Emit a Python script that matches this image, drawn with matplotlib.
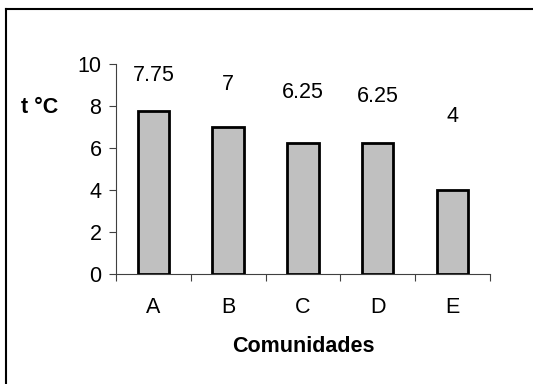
import matplotlib
matplotlib.use('Agg')
import matplotlib.pyplot as plt
from matplotlib.lines import Line2D

categories = ['A', 'B', 'C', 'D', 'E']
values = [7.75, 7, 6.25, 6.25, 4]
value_labels = ['7.75', '7', '6.25', '6.25', '4']
# label heights as placed in the original chart (data units)
label_heights = [9.47, 9.03, 8.63, 8.44, 7.52]

plt.rcParams['font.family'] = ['Liberation Sans', 'DejaVu Sans']
FS = 15.5

fig = plt.figure(figsize=(5.33, 3.84), dpi=100)
ax = fig.add_axes([0.2176, 0.287, 0.7014, 0.546])

x = list(range(len(categories)))
ax.bar(x, values, width=0.42, color='#c0c0c0', edgecolor='black', linewidth=2, zorder=3)

for xi, lab, h in zip(x, value_labels, label_heights):
    ax.text(xi, h, lab, ha='center', va='center', fontsize=FS)

ax.set_xlim(-0.5, len(categories) - 0.5)
ax.set_ylim(0, 10)
ax.set_yticks([0, 2, 4, 6, 8, 10])
ax.tick_params(axis='y', labelsize=FS, length=5, width=0.8, color='#404040', pad=5.5)

# boundary ticks as major, category names as minor
ax.set_xticks([i - 0.5 for i in range(len(categories) + 1)])
ax.set_xticklabels([])
ax.set_xticks(x, minor=True)
ax.set_xticklabels(categories, minor=True)
ax.tick_params(axis='x', which='major', length=5, width=0.8, color='#404040')
ax.tick_params(axis='x', which='minor', length=0, labelsize=FS, pad=17)

for side in ['top', 'right']:
    ax.spines[side].set_visible(False)
ax.spines['left'].set_color('#404040')
ax.spines['bottom'].set_color('#404040')
ax.spines['left'].set_linewidth(0.8)
ax.spines['bottom'].set_linewidth(0.8)

ax.set_xlabel('Comunidades', fontsize=FS, fontweight='bold', labelpad=13)
fig.text(0.075, 0.719, 't °C', fontsize=FS, fontweight='bold', ha='center', va='center')

# outer frame (only top and left edges visible in the original)
fig.add_artist(Line2D([0.0113, 1.0], [0.9766, 0.9766], transform=fig.transFigure, color='black', linewidth=1.5))
fig.add_artist(Line2D([0.0113, 0.0113], [0.0, 0.9766], transform=fig.transFigure, color='black', linewidth=1.5))

fig.savefig('out.png', dpi=100)
